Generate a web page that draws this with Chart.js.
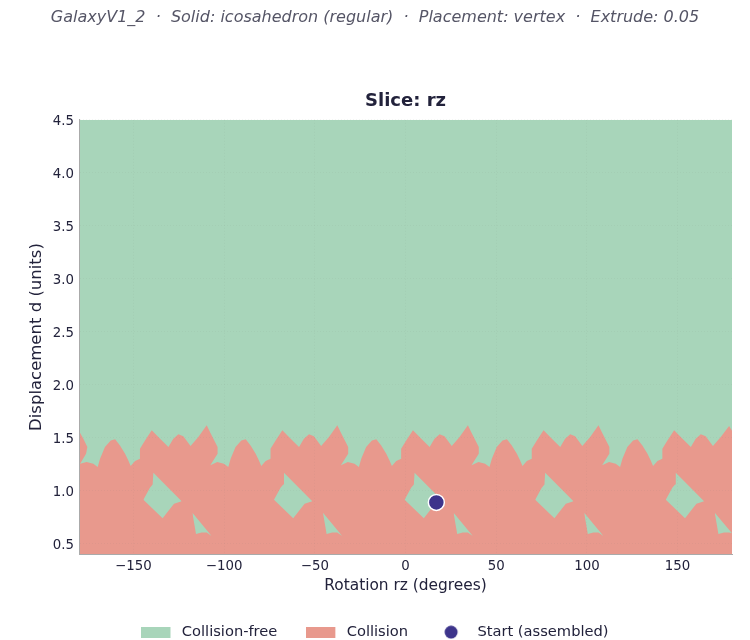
<!DOCTYPE html>
<html>
<head>
<meta charset="utf-8">
<script src="https://cdn.jsdelivr.net/npm/chart.js@4.4.7/dist/chart.umd.min.js"></script>
<style>
  html, body { margin: 0; padding: 0; background: #fff; }
  canvas { display: block; }
</style>
</head>
<body>
<canvas id="chart" width="750" height="640"></canvas>
<script>
const SUPTITLE = 'GalaxyV1_2  ·  Solid: icosahedron (regular)  ·  Placement: vertex  ·  Extrude: 0.05';
const SLICE_TITLE = 'Slice: rz';

const xTicks = [-150, -100, -50, 0, 50, 100, 150];
const yTicks = [0.5, 1.0, 1.5, 2.0, 2.5, 3.0, 3.5, 4.0, 4.5];

// upper edge of the collision region, left to right (doubles back at the notches)
const collisionX = [
  -180, -177.6, -175.4, -176.1, -179.4,
  -175.8, -172.1, -169.7, -168.4, -165.7, -162.5, -160.1, -157.4, -154.6, -152.8, -151.5, -149.1, -146.4, -146.4,
  -143.6, -139.9, -135.3, -130.7, -128.0, -125.2, -122.5, -118.5, -114.2, -109.6, -107.8, -103.6, -103.6, -107.6,
  -103.8, -100.1, -97.7, -96.4, -93.7, -90.5, -88.1, -85.4, -82.6, -80.8, -79.5, -77.1, -74.4, -74.4,
  -71.6, -67.9, -63.3, -58.7, -56.0, -53.2, -50.5, -46.5, -42.2, -37.6, -35.8, -31.6, -31.6, -35.6,
  -31.8, -28.1, -25.7, -24.4, -21.7, -18.5, -16.1, -13.4, -10.6, -8.8, -7.5, -5.1, -2.4, -2.4,
  0.4, 4.1, 8.7, 13.3, 16.0, 18.8, 21.5, 25.5, 29.8, 34.4, 36.2, 40.4, 40.4, 36.4,
  40.2, 43.9, 46.3, 47.6, 50.3, 53.5, 55.9, 58.6, 61.4, 63.2, 64.5, 66.9, 69.6, 69.6,
  72.4, 76.1, 80.7, 85.3, 88.0, 90.8, 93.5, 97.5, 101.8, 106.4, 108.2, 112.4, 112.4, 108.4,
  112.2, 115.9, 118.3, 119.6, 122.3, 125.5, 127.9, 130.6, 133.4, 135.2, 136.5, 138.9, 141.6, 141.6,
  144.4, 148.1, 152.7, 157.3, 160.0, 162.8, 165.5, 169.5, 173.8, 178.4, 180
];
const collisionY = [
  1.564, 1.491, 1.412, 1.349, 1.255,
  1.271, 1.255, 1.223, 1.302, 1.412, 1.475, 1.485, 1.428, 1.349, 1.286, 1.233, 1.280, 1.302, 1.397,
  1.475, 1.570, 1.491, 1.412, 1.491, 1.532, 1.513, 1.422, 1.507, 1.617, 1.554, 1.412, 1.349, 1.240,
  1.271, 1.255, 1.223, 1.302, 1.412, 1.475, 1.485, 1.428, 1.349, 1.286, 1.233, 1.280, 1.302, 1.397,
  1.475, 1.570, 1.491, 1.412, 1.491, 1.532, 1.513, 1.422, 1.507, 1.617, 1.554, 1.412, 1.349, 1.240,
  1.271, 1.255, 1.223, 1.302, 1.412, 1.475, 1.485, 1.428, 1.349, 1.286, 1.233, 1.280, 1.302, 1.397,
  1.475, 1.570, 1.491, 1.412, 1.491, 1.532, 1.513, 1.422, 1.507, 1.617, 1.554, 1.412, 1.349, 1.240,
  1.271, 1.255, 1.223, 1.302, 1.412, 1.475, 1.485, 1.428, 1.349, 1.286, 1.233, 1.280, 1.302, 1.397,
  1.475, 1.570, 1.491, 1.412, 1.491, 1.532, 1.513, 1.422, 1.507, 1.617, 1.554, 1.412, 1.349, 1.240,
  1.271, 1.255, 1.223, 1.302, 1.412, 1.475, 1.485, 1.428, 1.349, 1.286, 1.233, 1.280, 1.302, 1.397,
  1.475, 1.570, 1.491, 1.412, 1.491, 1.532, 1.513, 1.422, 1.507, 1.610, 1.565
];

// pockets of free space inside the collision region: each one has an upper and a
// lower edge that meet at both ends, pockets are separated by nulls
const pocketTopX = [
  -144.5, -140.9, -139.4, -139.0, -123.4, null, -117.5, -106.9, null,
  -72.5, -68.9, -67.4, -67.0, -51.4, null, -45.5, -34.9, null,
  -0.5, 3.1, 4.6, 5.0, 20.6, null, 26.5, 37.1, null,
  71.5, 75.1, 76.6, 77.0, 92.6, null, 98.5, 109.1, null,
  143.5, 147.1, 148.6, 149.0, 164.6, null, 170.5, 180
];
const pocketTopY = [
  0.915, 1.028, 1.060, 1.170, 0.900, null, 0.792, 0.574, null,
  0.915, 1.028, 1.060, 1.170, 0.900, null, 0.792, 0.574, null,
  0.915, 1.028, 1.060, 1.170, 0.900, null, 0.792, 0.574, null,
  0.915, 1.028, 1.060, 1.170, 0.900, null, 0.792, 0.574, null,
  0.915, 1.028, 1.060, 1.170, 0.900, null, 0.792, 0.598
];
const pocketBottomX = [
  -144.5, -133.9, -129.8, -127.6, -123.4, null, -117.5, -115.5, -112.4, -109.6, -106.9, null,
  -72.5, -61.9, -57.8, -55.6, -51.4, null, -45.5, -43.5, -40.4, -37.6, -34.9, null,
  -0.5, 10.1, 14.2, 16.4, 20.6, null, 26.5, 28.5, 31.6, 34.4, 37.1, null,
  71.5, 82.1, 86.2, 88.4, 92.6, null, 98.5, 100.5, 103.6, 106.4, 109.1, null,
  143.5, 154.1, 158.2, 160.4, 164.6, null, 170.5, 172.5, 175.6, 178.4, 180
];
const pocketBottomY = [
  0.915, 0.741, 0.830, 0.877, 0.900, null, 0.792, 0.593, 0.606, 0.606, 0.574, null,
  0.915, 0.741, 0.830, 0.877, 0.900, null, 0.792, 0.593, 0.606, 0.606, 0.574, null,
  0.915, 0.741, 0.830, 0.877, 0.900, null, 0.792, 0.593, 0.606, 0.606, 0.574, null,
  0.915, 0.741, 0.830, 0.877, 0.900, null, 0.792, 0.593, 0.606, 0.606, 0.574, null,
  0.915, 0.741, 0.830, 0.877, 0.900, null, 0.792, 0.593, 0.606, 0.606, 0.598
];

const freeBandX = [-180, 180];
const freeBandY = [4.5, 4.5];
const startX = [17];
const startY = [0.89];

const GREEN = '#a8d5ba';
const RED = '#e8998d';
const INDIGO = '#3d348b';
const INK = '#22223b';
const GRID = 'rgba(120,120,120,0.07)';

function zip(xs, ys) {
  return xs.map((x, i) => ({ x: x === null ? NaN : x, y: ys[i] === null ? NaN : ys[i] }));
}

// legend marker drawn into a small canvas so rects and the dot can share one box width
function legendSwatch(color, round) {
  const c = document.createElement('canvas');
  c.width = 33;
  c.height = round ? 14 : 11;
  const g = c.getContext('2d');
  g.fillStyle = color;
  if (round) {
    g.beginPath();
    g.arc(14, 7, 6.5, 0, Math.PI * 2);
    g.fill();
  } else {
    g.fillRect(0, 0, 29, 11);
  }
  return c;
}

const area = { type: 'scatter', showLine: true, borderWidth: 0, pointRadius: 0, spanGaps: false, tension: 0 };

new Chart(document.getElementById('chart'), {
  type: 'scatter',
  data: {
    datasets: [
      { ...area, label: 'Collision-free', data: zip(freeBandX, freeBandY), borderColor: GREEN, backgroundColor: GREEN, fill: { value: 0.4 }, order: 5 },
      { ...area, label: 'Collision', data: zip(collisionX, collisionY), borderColor: RED, backgroundColor: RED, fill: { value: 0.4 }, order: 4 },
      { ...area, label: 'pocketTop', data: zip(pocketTopX, pocketTopY), borderColor: GREEN, backgroundColor: GREEN, fill: '+1', order: 3 },
      { ...area, label: 'pocketBottom', data: zip(pocketBottomX, pocketBottomY), borderColor: GREEN, backgroundColor: GREEN, fill: false, order: 3 },
      {
        label: 'Start (assembled)', data: zip(startX, startY), order: 1,
        pointRadius: 8, pointBackgroundColor: INDIGO, pointBorderColor: '#fff', pointBorderWidth: 1.5,
        backgroundColor: INDIGO, borderColor: '#fff'
      }
    ]
  },
  options: {
    responsive: false,
    animation: false,
    devicePixelRatio: 1,
    layout: { padding: { left: 0, right: 0, top: 0, bottom: -9.5 } },
    plugins: {
      tooltip: { enabled: false },
      title: {
        display: true, text: SUPTITLE, color: '#555566',
        font: { family: 'DejaVu Sans', size: 16, style: 'italic', weight: 'normal', lineHeight: 1.2 },
        padding: { top: 8, bottom: 63 }
      },
      subtitle: {
        display: true, text: SLICE_TITLE, color: INK, fullSize: false,
        font: { family: 'DejaVu Sans', size: 18, weight: 'bold', lineHeight: 1.2 },
        padding: { top: 0, bottom: 8 }
      },
      legend: {
        position: 'bottom',
        labels: {
          color: INK,
          font: { family: 'DejaVu Sans', size: 14.67 },
          usePointStyle: true,
          pointStyleWidth: 33,
          boxHeight: 14,
          padding: 29,
          generateLabels() {
            return [
              { text: 'Collision-free', pointStyle: legendSwatch(GREEN, false), fontColor: INK, lineWidth: 0, strokeStyle: GREEN, fillStyle: GREEN },
              { text: 'Collision', pointStyle: legendSwatch(RED, false), fontColor: INK, lineWidth: 0, strokeStyle: RED, fillStyle: RED },
              { text: 'Start (assembled)', pointStyle: legendSwatch(INDIGO, true), fontColor: INK, lineWidth: 0, strokeStyle: INDIGO, fillStyle: INDIGO }
            ];
          }
        }
      }
    },
    scales: {
      x: {
        type: 'linear', min: -180, max: 180,
        afterBuildTicks(scale) { scale.ticks = xTicks.map((value) => ({ value })); },
        afterFit(scale) { scale.height = 41.5; },
        ticks: {
          color: INK, font: { family: 'DejaVu Sans', size: 13.33 }, maxRotation: 0, autoSkip: false, padding: 4,
          callback: (v) => String(v).replace('-', '\u2212')
        },
        grid: { z: 1, color: GRID, drawTicks: false },
        border: { z: 2, color: '#aaaaaa', width: 1, dash: [1, 2] },
        title: { display: true, text: 'Rotation rz (degrees)', color: INK, font: { family: 'DejaVu Sans', size: 15.4 }, padding: { top: 4, bottom: 1 } }
      },
      y: {
        type: 'linear', min: 0.4, max: 4.5,
        afterBuildTicks(scale) { scale.ticks = yTicks.map((value) => ({ value })); },
        afterFit(scale) { scale.width = 79; },
        ticks: {
          color: INK, font: { family: 'DejaVu Sans', size: 13.33 }, autoSkip: false, padding: 5, labelOffset: 1.5,
          callback: (v) => v.toFixed(1)
        },
        grid: { z: 1, color: GRID, drawTicks: false },
        border: { z: 2, color: '#aaaaaa', width: 1, dash: [1, 2] },
        title: { display: true, text: 'Displacement d (units)', color: INK, font: { family: 'DejaVu Sans', size: 16.5 }, padding: { top: 27, bottom: 2 } }
      },
      // empty axis, only keeps the plot clear of the right edge so the page title stays centred
      rightGap: {
        type: 'linear', position: 'right', display: true,
        afterFit(scale) { scale.width = 18; },
        ticks: { display: false },
        grid: { display: false },
        border: { display: false }
      }
    }
  }
});
</script>
</body>
</html>
